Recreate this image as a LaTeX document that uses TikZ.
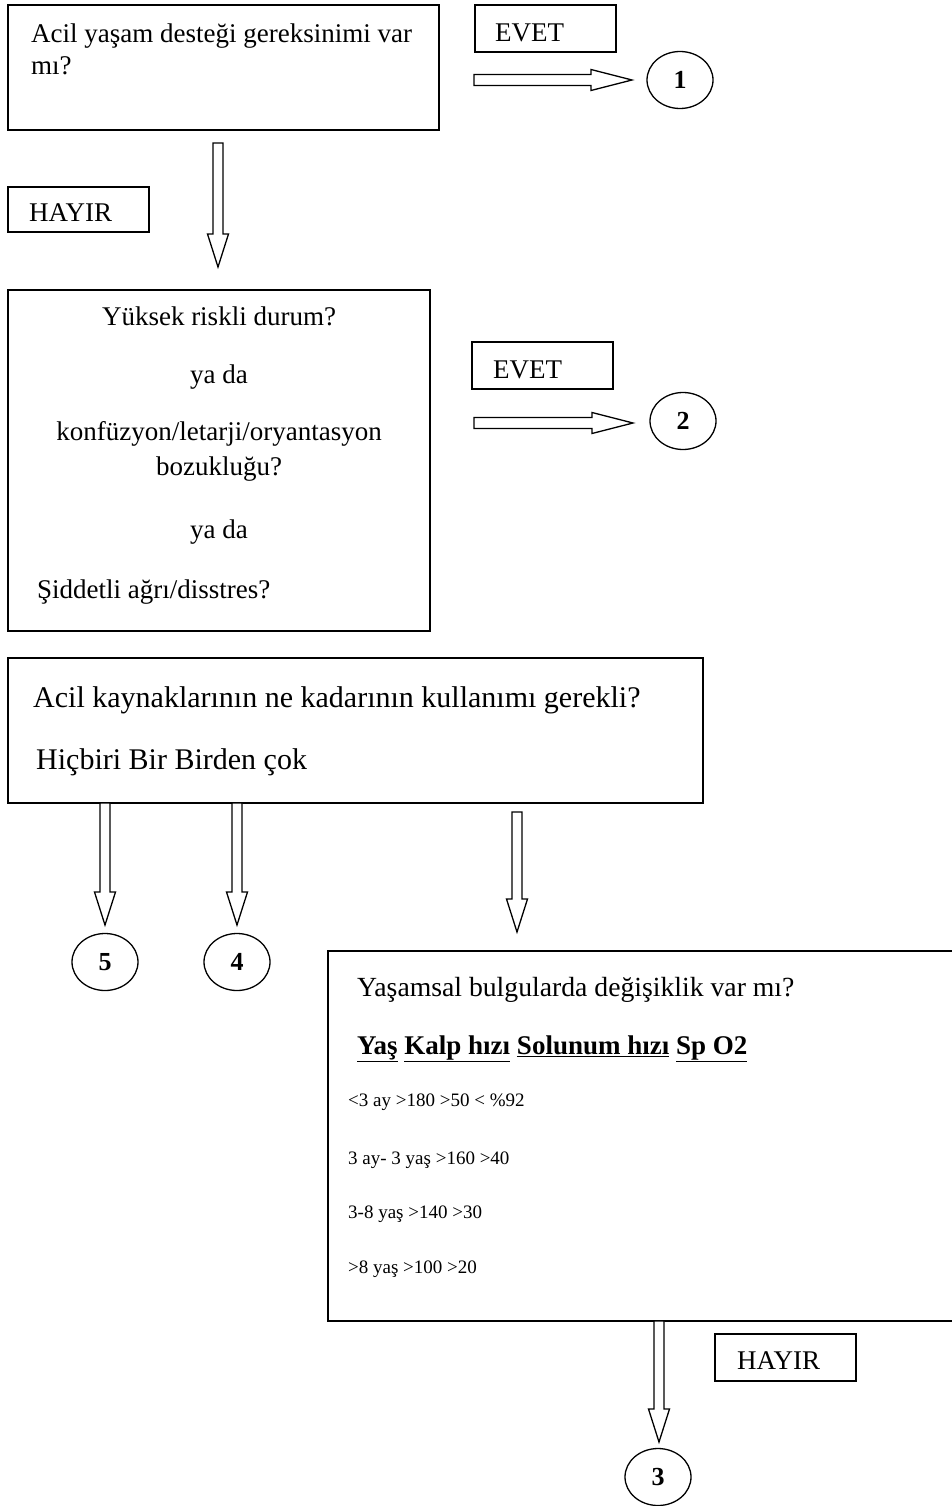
\documentclass[tikz,border=0pt]{standalone}
\usepackage{fontspec}
\setmainfont{Liberation Serif}
\usetikzlibrary{shapes.geometric,calc}
\tikzset{
  box/.style={draw, line width=1.5pt, rectangle, inner sep=0pt, outer sep=0pt},
  lblbox/.style={draw, line width=1.3pt, rectangle, inner sep=0pt, outer sep=0pt, minimum width=141pt, minimum height=47pt},
  circ/.style={draw, ellipse, line width=1.3pt, minimum width=66pt, minimum height=57pt, inner sep=0pt, font=\fontsize{26}{30}\selectfont\bfseries},
  txt/.style={inner sep=0pt, anchor=base west, font=\fontsize{27}{32}\selectfont},
  ctxt/.style={txt, anchor=base},
  bigtxt/.style={inner sep=0pt, anchor=base west, font=\fontsize{30}{35}\selectfont},
  small/.style={inner sep=0pt, anchor=base west, font=\fontsize{19}{23}\selectfont},
  hollow/.style={draw, line width=1.3pt, fill=white, line join=miter},
}
\newcommand\hollowV[2]{\draw[hollow] let \p1=(#1), \p2=(#2) in
  (\x1-5pt,\y1) -- (\x1-5pt,\y2+33pt) -- (\x1-10.5pt,\y2+33pt) -- (\x1,\y2)
  -- (\x1+10.5pt,\y2+33pt) -- (\x1+5pt,\y2+33pt) -- (\x1+5pt,\y1) -- cycle;}
\newcommand\hollowH[2]{\draw[hollow] let \p1=(#1), \p2=(#2) in
  (\x1,\y1+5.5pt) -- (\x2-41pt,\y1+5.5pt) -- (\x2-41pt,\y1+10.5pt) -- (\x2,\y1)
  -- (\x2-41pt,\y1-10.5pt) -- (\x2-41pt,\y1-5.5pt) -- (\x1,\y1-5.5pt) -- cycle;}
\begin{document}
\begin{tikzpicture}[x=1pt,y=-1pt]
\useasboundingbox (0,0) rectangle (952,1506);
\fill[white] (0,0) rectangle (952,1506);

% boxes
\node[box, minimum width=431pt, minimum height=125pt] (b1) at (223.5,67.5) {};
\node[box, minimum width=422pt, minimum height=341pt] (b2) at (219,460.5) {};
\node[box, minimum width=695pt, minimum height=145pt] (b3) at (355.5,730.5) {};
\node[box, minimum width=630pt, minimum height=370pt] (b4) at (643,1136) {};

% label boxes
\node[lblbox] (ev1) at (545.5,28.5) {};
\node[lblbox, minimum height=45pt] (hy1) at (78.5,209.5) {};
\node[lblbox] (ev2) at (542.5,365.5) {};
\node[lblbox] (hy2) at (785.5,1357.5) {};

% circles
\node[circ] (c1) at (680,80) {1};
\node[circ] (c2) at (683,421) {2};
\node[circ] (c5) at (105,962) {5};
\node[circ] (c4) at (237,962) {4};
\node[circ] (c3) at (658,1477) {3};

% texts
\node[txt] (t1a) at (31,43) {Acil yaşam desteği gereksinimi var};
\node[txt] (t1b) at (31,75) {mı?};
\node[txt] (tev1) at (495,42) {EVET};
\node[txt] (thy1) at (29,222) {HAYIR};
\node[txt] (tev2) at (493,378) {EVET};
\node[txt] (thy2) at (737,1369) {HAYIR};

\node[ctxt] (t2a) at (219,325) {Yüksek riskli durum?};
\node[ctxt] (t2b) at (219,383) {ya da};
\node[ctxt] (t2c) at (219,440) {konfüzyon/letarji/oryantasyon};
\node[ctxt] (t2d) at (219,475) {bozukluğu?};
\node[ctxt] (t2e) at (219,538) {ya da};
\node[txt] (t2f) at (37,598) {Şiddetli ağrı/disstres?};

\node[bigtxt] (t3a) at (33,707) {Acil kaynaklarının ne kadarının kullanımı gerekli?};
\node[bigtxt] (t3b) at (36,769) {Hiçbiri Bir Birden çok};

\node[txt, font=\fontsize{27.7}{33}\selectfont] (t4a) at (357,996) {Yaşamsal bulgularda değişiklik var mı?};
\node[txt, font=\fontsize{27}{32}\selectfont\bfseries] (t4b) at (357,1054)
  {\underline{Yaş} \underline{Kalp hızı} \underline{Solunum hızı} \underline{Sp O2}};
\node[small] (r1) at (348,1106) {<3 ay >180 >50 < \%92};
\node[small] (r2) at (348,1164) {3 ay- 3 yaş >160 >40};
\node[small] (r3) at (348,1218) {3-8 yaş >140 >30};
\node[small] (r4) at (348,1273) {>8 yaş >100 >20};

% arrow end points
\coordinate (aAs) at (218,143);
\coordinate (aAe) at (218,267);
\coordinate (h1s) at (474,80);
\coordinate (h1e) at (632,80);
\coordinate (h2s) at (474,423);
\coordinate (h2e) at (633,423);
\coordinate (a5e) at (105,925);
\coordinate (a4e) at (237,925);
\coordinate (aBs) at (517,812);
\coordinate (aBe) at (517,932);
\coordinate (aCe) at (659,1442);

% hollow arrows
\hollowV{aAs}{aAe}
\hollowH{h1s}{h1e}
\hollowH{h2s}{h2e}
\hollowV{b3.south -| a5e}{a5e}
\hollowV{b3.south -| a4e}{a4e}
\hollowV{aBs}{aBe}
\hollowV{b4.south -| aCe}{aCe}
\end{tikzpicture}
\end{document}
